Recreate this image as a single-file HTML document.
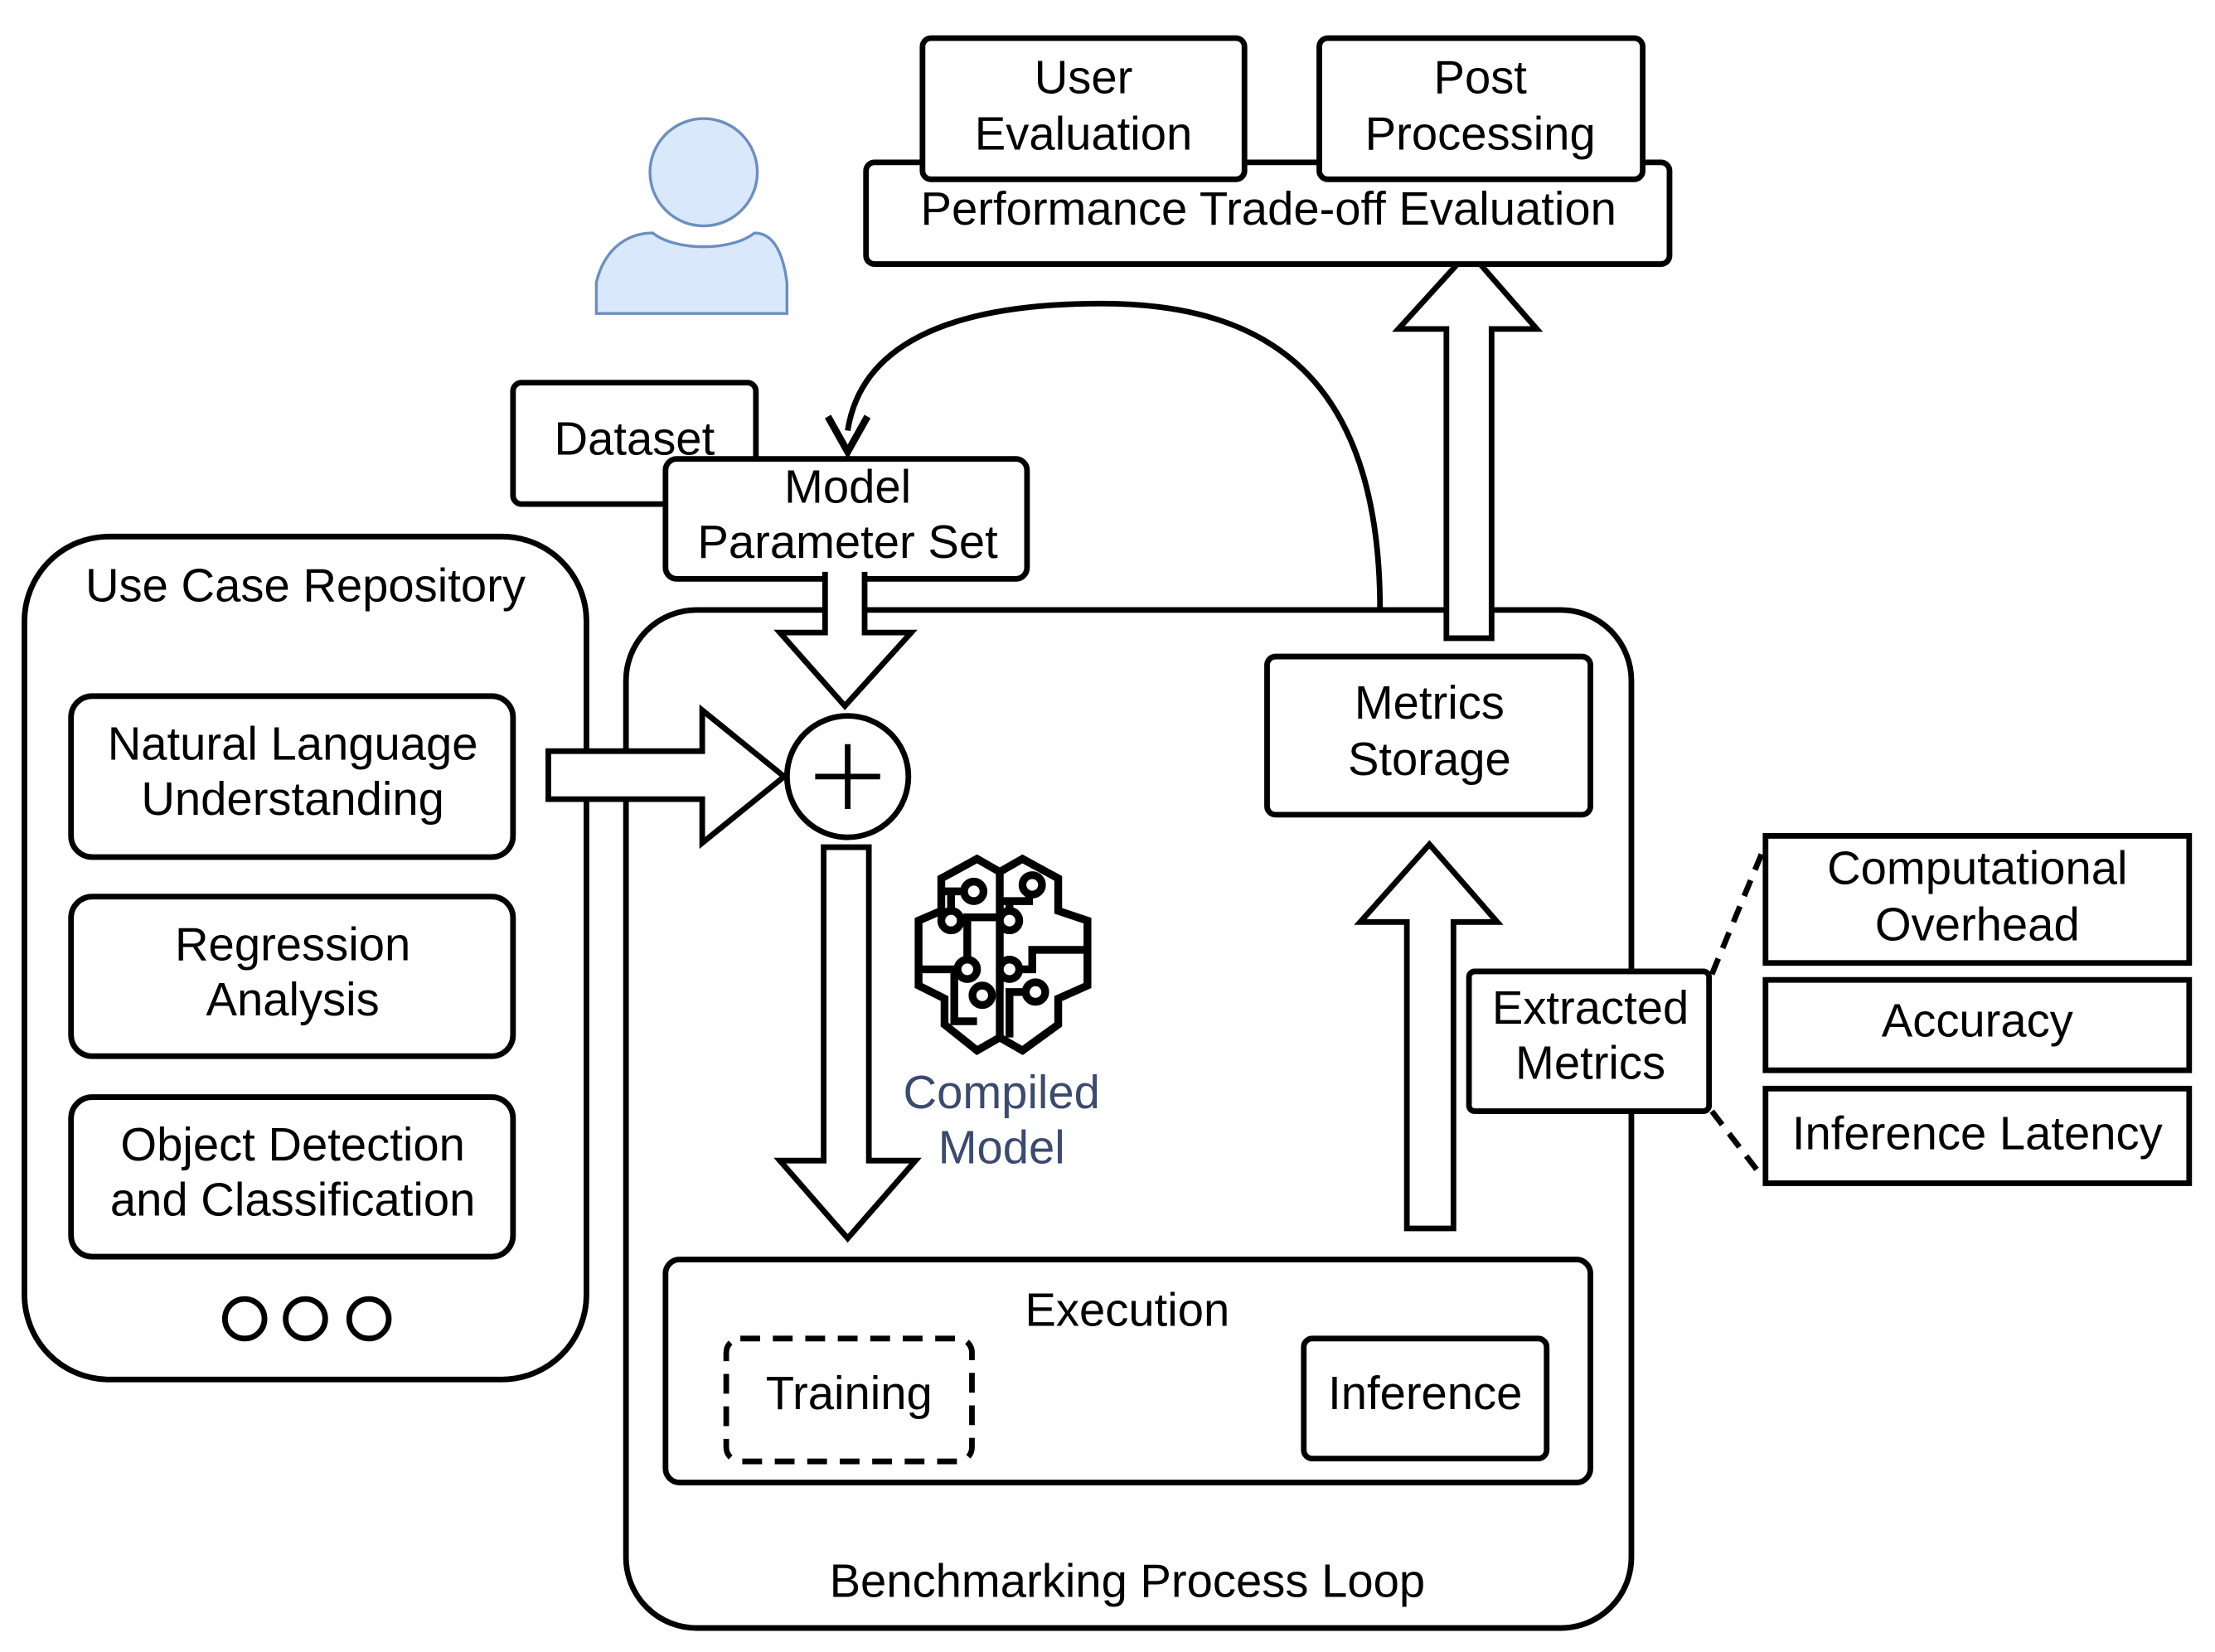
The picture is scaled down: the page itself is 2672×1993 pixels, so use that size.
<!DOCTYPE html>
<html><head><style>html,body{margin:0;padding:0;background:#fff}svg{display:block}</style></head>
<body>
<svg width="2672" height="1993" viewBox="0 0 1568 1170" xmlns="http://www.w3.org/2000/svg" font-family="Liberation Sans, sans-serif" font-size="33" text-anchor="middle">
<g fill="none" stroke="#000" stroke-width="4">
<rect x="17" y="380" width="398" height="597" rx="60"/>
<rect x="50" y="493" width="313" height="114" rx="15"/>
<rect x="50" y="635" width="313" height="113" rx="15"/>
<rect x="50" y="777" width="313" height="113" rx="15"/>
<circle cx="173" cy="934" r="14"/><circle cx="216" cy="934" r="14"/><circle cx="261" cy="934" r="14"/>
<rect x="443" y="432" width="712" height="721" rx="50"/>
<rect x="363" y="271" width="172" height="86" rx="6" fill="#fff"/>
<rect x="471" y="325" width="256" height="85" rx="8" fill="#fff"/>
<path d="M584 405 V448 H552 L598 500 L645 448 H612 V405" fill="#fff"/>
<path d="M388 532 H497 V503 L555 550 L497 597 V566 H388 Z" fill="#fff"/>
<circle cx="600" cy="550" r="43" fill="#fff"/>
<path d="M600 527 V573 M577 550 H623" stroke-width="4"/>
<path d="M583 600 V822 H552 L600 877 L648 822 H615 V600 Z" fill="#fff"/>
<rect x="471" y="892" width="655" height="158" rx="10"/>
<rect x="514" y="948" width="174" height="87" rx="10" stroke-dasharray="14 9"/>
<rect x="923" y="948" width="172" height="85" rx="6"/>
<path d="M996 870 V653 H963 L1012 598 L1060 653 H1029 V870 Z" fill="#fff"/>
<path d="M1024 452 V233 H990 L1040 178 L1088 233 H1056 V452 Z" fill="#fff"/>
<rect x="897" y="465" width="229" height="112" rx="6" fill="#fff"/>
<path d="M977 432 C977 270 900 215 780 215 C680 215 610 240 600 305"/>
<path d="M586 295 L600 320 L614 295" stroke-width="5"/>
<rect x="613" y="115" width="569" height="72" rx="6" fill="#fff"/>
<rect x="653" y="27" width="228" height="100" rx="6" fill="#fff"/>
<rect x="934" y="27" width="229" height="100" rx="6" fill="#fff"/>
<rect x="1040" y="688" width="170" height="99" rx="4" fill="#fff"/>
<rect x="1250" y="592" width="300" height="90"/>
<rect x="1250" y="694" width="300" height="64"/>
<rect x="1250" y="771" width="300" height="67"/>
<path d="M1212 690 L1250 598 M1212 787 L1245 830" stroke-dasharray="12 8"/>
</g>
<g fill="#dae8fc" stroke="#6c8ebf" stroke-width="2">
<circle cx="498" cy="122" r="38"/>
<path d="M422 222 L422 200 C428 175 445 165 462 165 C478 178 518 178 534 165 C550 165 555 185 557 200 L557 222 Z"/>
</g>
<g fill="none" stroke="#000" stroke-width="5" transform="translate(641,606) scale(0.46)">
<path d="M20 100 L55 85 L55 35 L110 5 L145 25 L180 5 L235 35 L235 85 L280 100 L280 200 L235 220 L235 260 L180 300 L145 280 L110 300 L60 260 L60 220 L20 200 Z" stroke-width="12"/>
<path d="M145 25 V280" stroke-width="12"/>
<path d="M55 55 H95 M70 55 V95 M145 95 H95 V170 M20 175 H95 M75 175 V255 H110 M145 70 H190 V55 M160 70 V100 M280 145 H195 V175 H160 M185 210 H160 V280" stroke-width="12"/>
<g stroke-width="12" fill="#fff"><circle cx="105" cy="55" r="15"/><circle cx="70" cy="100" r="15"/><circle cx="95" cy="175" r="15"/><circle cx="118" cy="215" r="15"/><circle cx="195" cy="45" r="15"/><circle cx="160" cy="100" r="15"/><circle cx="160" cy="175" r="15"/><circle cx="200" cy="210" r="15"/></g>
</g>
<g fill="#000">
<text x="216" y="426">Use Case Repository</text>
<text x="207" y="538">Natural Language</text><text x="207" y="577">Understanding</text>
<text x="207" y="680">Regression</text><text x="207" y="719">Analysis</text>
<text x="207" y="822">Object Detection</text><text x="207" y="861">and Classification</text>
<text x="449" y="322">Dataset</text>
<text x="600" y="356">Model</text><text x="600" y="395">Parameter Set</text>
<text x="709" y="785" fill="#3b4a6e">Compiled</text><text x="709" y="824" fill="#3b4a6e">Model</text>
<text x="798" y="939">Execution</text>
<text x="601" y="998">Training</text>
<text x="1009" y="998">Inference</text>
<text x="798" y="1131">Benchmarking Process Loop</text>
<text x="1012" y="509">Metrics</text><text x="1012" y="549">Storage</text>
<text x="898" y="159">Performance Trade-off Evaluation</text>
<text x="767" y="66">User</text><text x="767" y="106">Evaluation</text>
<text x="1048" y="66">Post</text><text x="1048" y="106">Processing</text>
<text x="1126" y="725">Extracted</text><text x="1126" y="764">Metrics</text>
<text x="1400" y="626">Computational</text><text x="1400" y="666">Overhead</text>
<text x="1400" y="734">Accuracy</text>
<text x="1400" y="814">Inference Latency</text>
</g>
</svg>
</body></html>
